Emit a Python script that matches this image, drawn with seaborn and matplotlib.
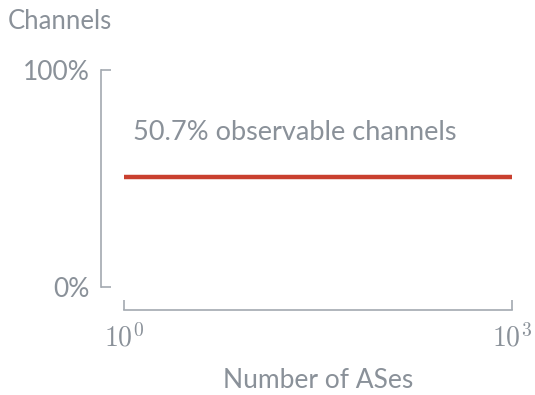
import numpy as np
import pandas as pd
import matplotlib
matplotlib.use("Agg")
import matplotlib.pyplot as plt
import seaborn as sns
from matplotlib.ticker import FixedLocator

# dados
n_ases = [1, 1000]
share_observable = [0.507, 0.507]
x_ticks = [1, 1000]
x_tick_labels = ["$10^{0}$", "$10^{3}$"]
y_ticks = [0.0, 1.0]
y_tick_labels = ["0%", "100%"]
annotation = "50.7% observable channels"

gray = "#8a9199"
spine_gray = "#a3a9b0"
red = "#c9402f"

sns.set_theme(style="ticks")
plt.rcParams["font.family"] = ["Lato", "DejaVu Sans"]
plt.rcParams["mathtext.fontset"] = "cm"

df = pd.DataFrame({"ases": n_ases, "share": share_observable})

fig = plt.figure(figsize=(5.35, 3.95), dpi=100)
ax = fig.add_axes([124 / 535, 1 - 287 / 395, (512 - 124) / 535, (287 - 70) / 395])

sns.lineplot(data=df, x="ases", y="share", color=red, linewidth=3.2, ax=ax)

ax.set_xscale("log")
ax.set_xlim(1, 1000)
ax.set_ylim(0, 1)
ax.xaxis.set_major_locator(FixedLocator(x_ticks))
ax.xaxis.set_minor_locator(FixedLocator([]))
ax.set_xticklabels(x_tick_labels)
ax.set_yticks(y_ticks)
ax.set_yticklabels(y_tick_labels)

sns.despine(ax=ax, offset={"left": 16.5, "bottom": 16.5})
for s in ["left", "bottom"]:
    ax.spines[s].set_color(spine_gray)
    ax.spines[s].set_linewidth(1.2)

ax.tick_params(axis="both", direction="in", length=7, width=1.2, color=spine_gray,
               labelcolor=gray, labelsize=19)
ax.tick_params(axis="y", pad=8)
ax.tick_params(axis="x", pad=9, labelsize=20)

ax.set_xlabel("Number of ASes", color=gray, fontsize=19, labelpad=12)
ax.set_ylabel("")
fig.text(8 / 535, 1 - 9 / 395, "Channels", color=gray, fontsize=18.5, ha="left", va="top")

ax.text(0.023, 0.71, annotation, transform=ax.transAxes, color=gray, fontsize=19.5,
        ha="left", va="center")

fig.savefig("out.png", dpi=100)
